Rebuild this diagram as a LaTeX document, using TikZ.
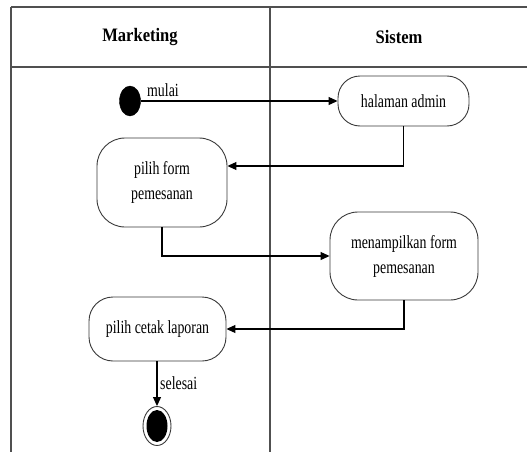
\documentclass[tikz,border=0pt]{standalone}
\usepackage{fontspec}
\setmainfont{Liberation Serif}[FakeStretch=0.75]
\newfontfamily\headfont{Liberation Serif}[FakeStretch=0.87]
\usetikzlibrary{shapes.geometric,arrows.meta,calc}
\definecolor{lanegray}{HTML}{505050}
\definecolor{boxgray}{HTML}{3A3A3A}
\tikzset{
  lane/.style={draw=lanegray,line width=1.6pt},
  action/.style={draw=boxgray,line width=0.9pt,rounded corners=22pt,
    align=center,inner sep=0pt,font=\fontsize{18.5}{25}\selectfont},
  flow/.style={draw=black,line width=1.1pt,-{Triangle[length=9pt,width=8pt]}},
  lbl/.style={font=\fontsize{18.5}{20}\selectfont,inner sep=0pt},
  head/.style={font=\headfont\bfseries\fontsize{19}{20}\selectfont,inner sep=0pt}
}
\begin{document}
\begin{tikzpicture}[x=1pt,y=-1pt]
\useasboundingbox (0,0) rectangle (527,452);
\fill[white] (0,0) rectangle (527,452);

% swimlane frame
\draw[lane] (11,7) -- (527,7);
\draw[lane] (11,67) -- (527,67);
\draw[lane] (11,7) -- (11,452);
\draw[lane] (270,7) -- (270,452);
\node[head] (hm) at (140,37) {Marketing};
\node[head] (hs) at (399,37) {Sistem};

% start and end states
\node[ellipse,fill=black,draw=black,minimum width=21pt,minimum height=30pt,inner sep=0pt] (start) at (130,101) {};
\node[ellipse,draw=boxgray,line width=0.9pt,fill=white,minimum width=28pt,minimum height=39pt,inner sep=0pt] (stop) at (157,426) {};
\node[ellipse,fill=black,minimum width=21pt,minimum height=32pt,inner sep=0pt] (stopin) at (157,426) {};

% actions
\node[action,minimum width=131pt,minimum height=50pt] (ha) at (403.5,101) {halaman admin};
\node[action,minimum width=130pt,minimum height=89pt,rounded corners=28pt] (pf) at (162,182.5) {pilih form\\pemesanan};
\node[action,minimum width=148pt,minimum height=88pt,rounded corners=28pt] (mf) at (404,256) {menampilkan form\\pemesanan};
\node[action,minimum width=137pt,minimum height=64pt,rounded corners=24pt] (pc) at (157.5,329) {pilih cetak laporan};

% transitions
\draw[flow] (start.east) -- (ha.west);
\node[lbl,anchor=south west] (lmulai) at (147,97) {mulai};
\draw[flow] (ha.south) |- ([yshift=16.5pt]pf.east);
\draw[flow] (pf.south) |- (mf.west);
\draw[flow] (mf.south) |- (pc.east);
\draw[flow] (pc.south -| stop) -- (stop.north);
\node[lbl,anchor=west] (lselesai) at (160,383) {selesai};
\end{tikzpicture}
\end{document}
